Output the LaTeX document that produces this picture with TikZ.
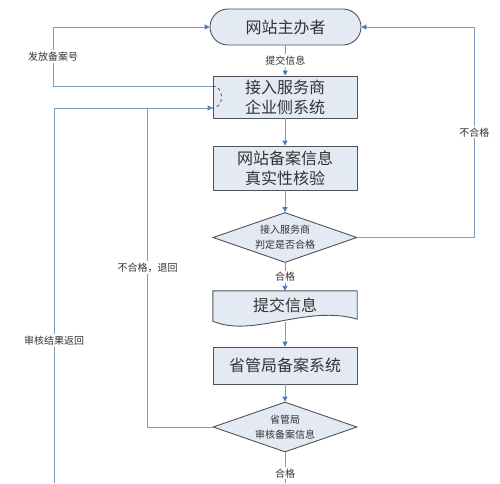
\documentclass[tikz,border=0pt]{standalone}
\usepackage{fontspec}
\setmainfont{Noto Sans CJK SC}
\usetikzlibrary{shapes.geometric,arrows.meta,calc}
\begin{document}
\begin{tikzpicture}[x=1pt,y=-1pt,font=\fontsize{16}{20}\selectfont,
 box/.style={draw=bd,fill=bx,line width=.9pt,minimum width=144pt,minimum height=42pt,align=center,text=ink},
 dia/.style={diamond,draw=bd,fill=bx,line width=.9pt,aspect=2.94,minimum width=144pt,minimum height=50pt,inner sep=0pt,align=center,text=ink,font=\fontsize{10}{15}\selectfont},
 flow/.style={draw=ln,line width=.9pt,-{Triangle[length=5pt,width=5pt,color=arr]}},
 link/.style={draw=ln,line width=.9pt},
 lbl/.style={fill=white,inner sep=1.5pt,text=ink,font=\fontsize{10}{12}\selectfont}]
\definecolor{bx}{HTML}{E4EAF4}\definecolor{bd}{HTML}{505458}\definecolor{ln}{HTML}{7E9BC0}\definecolor{arr}{HTML}{4A7BB8}\definecolor{ink}{HTML}{333333}
\useasboundingbox (0,0) rectangle (500,483);
% nodes
\node[box,rounded corners=18pt,minimum width=151pt,minimum height=36pt] (host) at (285.5,27) {网站主办者};
\node[box] (isp) at (285,97) {接入服务商\\企业侧系统};
\node[box,minimum height=44pt] (check) at (285,168) {网站备案信息\\真实性核验};
\node[dia] (judge) at (285,237.5) {接入服务商\\判定是否合格};
\node[minimum width=144pt,minimum height=29pt,inner sep=0pt] (doc) at (285,305.5) {};
\node[box,minimum height=37pt] (prov) at (285,365.5) {省管局备案系统};
\node[dia] (audit) at (285,427) {省管局\\审核备案信息};
% document shape
\draw[draw=bd,fill=bx,line width=.9pt] (doc.north west) -- (doc.north east) -- ($(doc.south east)+(0,-1)$) .. controls ($(doc.south east)+(-50,-16)$) and ($(doc.south west)+(40,18)$) .. ($(doc.south west)+(0,1)$) -- cycle;
\node[text=ink] (doctxt) at (doc.center) {提交信息};
\coordinate (ispa) at ($(isp.west)+(0,-11)$);\coordinate (ispb) at ($(isp.west)+(0,11)$);\coordinate (back) at (54,483);\coordinate (down) at (285,483);
% connectors
\draw[flow] (host) -- node[lbl]{提交信息} (isp);
\draw[flow] (isp) -- (check);\draw[flow] (check) -- (judge);
\draw[flow] (judge) -- node[lbl]{合格} (doc);
\draw[flow] ($(doc.south)+(0,2)$) -- (prov);\draw[flow] (prov) -- (audit);
\draw[link] (audit) -- node[lbl,pos=.68]{合格} (down);
\draw[flow] (ispa) -| node[lbl,pos=.75]{发放备案号} ($(host.west)+(-156.5,0)$) -- (host.west);
\draw[flow] (judge.east) -- ++(117,0) |- node[lbl,pos=.25]{不合格} (host.east);
\draw[flow] (back) |- node[lbl,pos=.19]{审核结果返回} (ispb);
\draw[link] (audit.west) -- ++(-65,0) |- node[lbl,pos=.25]{不合格，退回} (ispb);
\draw[bd,dashed,line width=.8pt] (ispa) .. controls +(12,0) and +(12,0) .. (ispb);
\end{tikzpicture}
\end{document}
